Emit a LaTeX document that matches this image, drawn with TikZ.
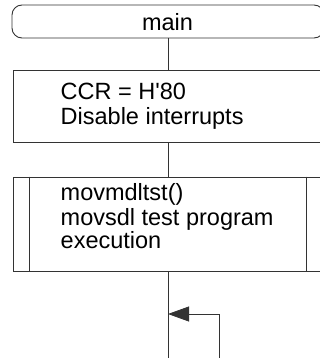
\documentclass[tikz,border=0pt]{standalone}
\usepackage{fontspec}
\setmainfont{Liberation Sans}
\usetikzlibrary{arrows.meta}
\begin{document}
\begin{tikzpicture}[
  x=1pt, y=-1pt,
  flow/.style={draw=black!80, line width=0.9pt},
  terminal/.style={flow, rounded corners=10pt, inner sep=0pt,
    minimum width=312pt, minimum height=33pt},
  procbox/.style={flow, inner sep=0pt, minimum width=310pt},
  lbl/.style={font=\fontsize{23.5}{25}\selectfont, inner sep=0pt,
    anchor=base west, text=black}
]
\useasboundingbox (0,0) rectangle (320,358);
\clip (0,0) rectangle (320,358);

% start terminal
\node[terminal] (term) at (168,21.5) {};
\node[lbl, anchor=base] (termtext) at (167.5,31) {main};

% initialisation step
\node[procbox, minimum height=72pt] (init) at (168,106) {};
\node[lbl] (initA) at (60.5,100) {CCR = H\textquotesingle 80};
\node[lbl] (initB) at (60.5,125) {Disable interrupts};

% subroutine call (predefined process)
\node[procbox, minimum height=94pt] (call) at (168,224) {};
\draw[flow] ([xshift=17pt]call.north west) -- ([xshift=17pt]call.south west);
\draw[flow] ([xshift=-17pt]call.north east) -- ([xshift=-17pt]call.south east);
\node[lbl] (callA) at (60.5,200) {movmdltst()};
\node[lbl] (callB) at (60.5,225) {movsdl test program};
\node[lbl] (callC) at (60.5,248) {execution};

% connectors
\coordinate (exit) at (168,358);
\coordinate (loopstart) at (219,358);
\coordinate (loopjoin) at (168,314);
\draw[flow] (term.south) -- (init.north);
\draw[flow] (init.south) -- (call.north);
\draw[flow] (call.south) -- (exit);
\draw[flow, line width=0.8pt, -{Triangle[length=21pt,width=15pt]}] (loopstart) |- (loopjoin);
\end{tikzpicture}
\end{document}
